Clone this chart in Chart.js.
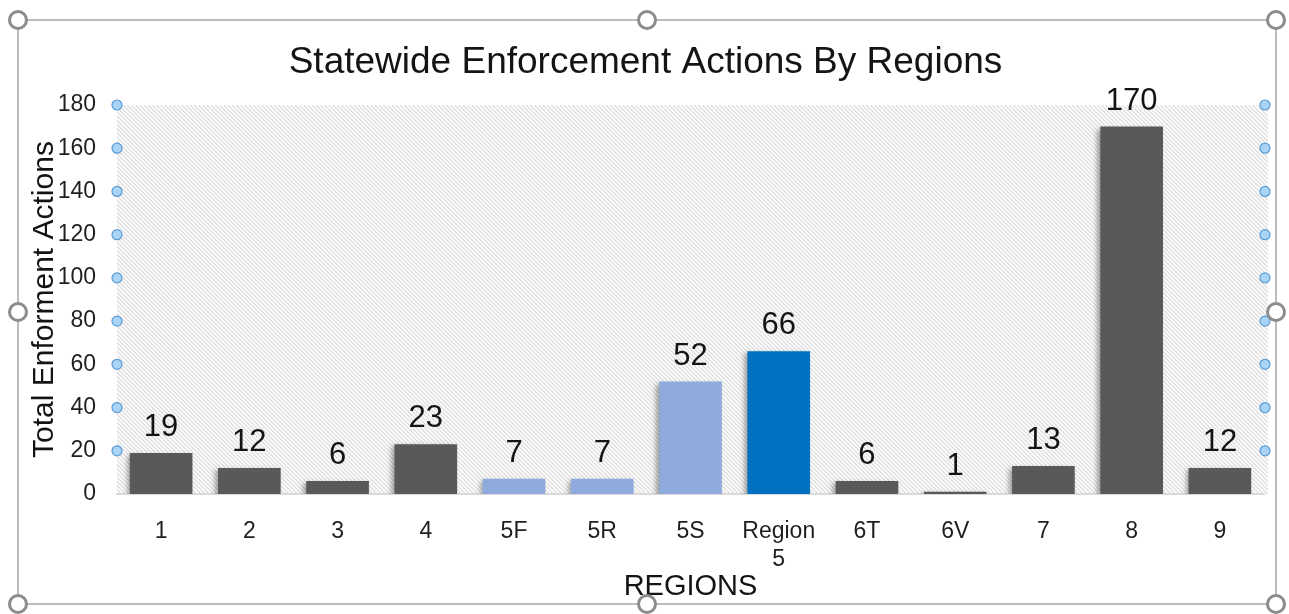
<!DOCTYPE html>
<html>
  <head>
    <title>Statewide Enforcement Actions By Regions</title>
    <script src="https://cdn.jsdelivr.net/npm/chart.js@4.4.1/dist/chart.umd.min.js"></script>
    <style>
      body { margin: 0; background: #fff; }
      #container { width: 1289px; height: 614px; }
    </style>
  </head>

  <body>
    <div id="container">
      <canvas id="canvas"></canvas>
    </div>
    <script>
      // chart data
      const regions = ['1', '2', '3', '4', '5F', '5R', '5S', ['Region', '5'], '6T', '6V', '7', '8', '9'];
      const actions = [19, 12, 6, 23, 7, 7, 52, 66, 6, 1, 13, 170, 12];
      // which bars belong to region 5 (sub-offices vs. the region total)
      const groups = ['other', 'other', 'other', 'other', 'sub', 'sub', 'sub', 'total', 'other', 'other', 'other', 'other', 'other'];
      const yMax = 180;
      const yStep = 20;

      const groupColors = { other: '#595959', sub: '#8FAADC', total: '#0070C0' };
      const FONT = 'Arial, "Liberation Sans", sans-serif';

      // diagonal hatch behind the bars
      const hatchPlugin = {
        id: 'hatch',
        beforeDatasetsDraw(chart) {
          const { ctx, chartArea: a } = chart;
          ctx.save();
          ctx.beginPath();
          ctx.rect(a.left, a.top, a.right - a.left + 4, a.bottom - a.top);
          ctx.clip();
          ctx.strokeStyle = '#dedede';
          ctx.lineWidth = 1.4;
          const h = a.bottom - a.top;
          for (let k = -h; k < a.right - a.left + 10; k += 4.2) {
            ctx.beginPath();
            ctx.moveTo(a.left + k, a.top);
            ctx.lineTo(a.left + k + h, a.bottom);
            ctx.stroke();
          }
          ctx.restore();
          // soft shadow for the bars
          ctx.save();
          ctx.shadowColor = 'rgba(0,0,0,0.35)';
          ctx.shadowBlur = 5;
          ctx.shadowOffsetX = -3;
          ctx.shadowOffsetY = 2;
        },
        afterDatasetsDraw(chart) {
          chart.ctx.restore();
        },
      };

      // value labels above each bar
      const valueLabels = {
        id: 'valueLabels',
        afterDatasetsDraw(chart) {
          const { ctx } = chart;
          const meta = chart.getDatasetMeta(0);
          ctx.save();
          ctx.font = '31px ' + FONT;
          ctx.fillStyle = '#141414';
          ctx.textAlign = 'center';
          ctx.textBaseline = 'alphabetic';
          meta.data.forEach((bar, i) => {
            ctx.fillText(String(actions[i]), bar.x, bar.y - 17);
          });
          ctx.restore();
        },
      };

      // excel-like selection frame with handles and gridline markers
      const selectionFrame = {
        id: 'selectionFrame',
        afterDraw(chart) {
          const { ctx, chartArea: a, scales } = chart;
          ctx.save();
          // gridline markers
          ctx.lineWidth = 1.2;
          ctx.strokeStyle = '#5b9bd5';
          ctx.fillStyle = '#a9d4f5';
          scales.y.ticks.forEach((t) => {
            if (t.value === 0) return;
            const y = scales.y.getPixelForValue(t.value);
            [a.left, a.right + 1].forEach((x) => {
              ctx.beginPath();
              ctx.arc(x, y, 5, 0, Math.PI * 2);
              ctx.fill();
              ctx.stroke();
            });
          });
          // frame
          const L = 18, T = 20, R = 1276, B = 604;
          ctx.strokeStyle = '#a6a6a6';
          ctx.lineWidth = 1.5;
          ctx.strokeRect(L, T, R - L, B - T);
          const mx = (L + R) / 2, my = (T + B) / 2;
          const handles = [[L, T], [mx, T], [R, T], [L, my], [R, my], [L, B], [mx, B], [R, B]];
          ctx.strokeStyle = '#8c8c8c';
          ctx.lineWidth = 3;
          ctx.fillStyle = '#fff';
          handles.forEach(([x, y]) => {
            ctx.beginPath();
            ctx.arc(x, y, 8.5, 0, Math.PI * 2);
            ctx.fill();
            ctx.stroke();
          });
          ctx.restore();
        },
      };

      window.onload = () => {
        const ctx = document.getElementById('canvas').getContext('2d');
        window.myBar = new Chart(ctx, {
          type: 'bar',
          data: {
            labels: regions,
            datasets: [
              {
                label: 'Total Enforment Actions',
                data: actions,
                backgroundColor: groups.map((g) => groupColors[g]),
                categoryPercentage: 1,
                barPercentage: 0.71,
              },
            ],
          },
          options: {
            responsive: true,
            maintainAspectRatio: false,
            animation: false,
            layout: {
              padding: { left: 27, right: 25, top: 0, bottom: 10 },
            },
            plugins: {
              legend: { display: false },
              tooltip: { enabled: false },
              title: {
                display: true,
                text: 'Statewide Enforcement Actions By Regions',
                color: '#141414',
                font: { family: FONT, size: 37, weight: 'normal' },
                padding: { top: 41, bottom: 19.6 },
              },
            },
            scales: {
              x: {
                grid: { display: false },
                border: { display: true, color: '#d9d9d9', width: 2 },
                ticks: {
                  color: '#1f1f1f',
                  padding: 16,
                  maxRotation: 0,
                  autoSkip: false,
                  font: { family: FONT, size: 23 },
                },
                title: {
                  display: true,
                  text: 'REGIONS',
                  color: '#141414',
                  padding: 0,
                  font: { family: FONT, size: 29 },
                },
                afterFit(scale) {
                  scale.height = 110;
                },
              },
              y: {
                min: 0,
                max: yMax,
                grid: { display: false, drawTicks: false },
                border: { display: false },
                ticks: {
                  stepSize: yStep,
                  color: '#1f1f1f',
                  padding: 21,
                  font: { family: FONT, size: 23 },
                },
                title: {
                  display: true,
                  text: 'Total Enforment Actions',
                  color: '#141414',
                  padding: 0,
                  font: { family: FONT, size: 30 },
                },
                afterFit(scale) {
                  scale.width = 90;
                },
              },
            },
          },
          plugins: [hatchPlugin, valueLabels, selectionFrame],
        });
      };
    </script>
  </body>
</html>
